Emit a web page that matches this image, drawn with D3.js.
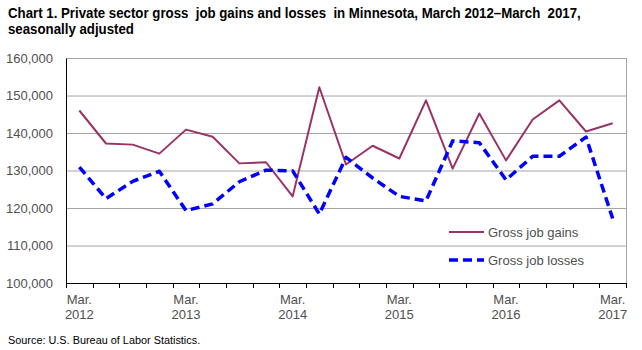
<!DOCTYPE html>
<html>
<head>
<meta charset="utf-8">
<style>
  body { margin: 0; background: #fff; }
  svg text { font-family: "Liberation Sans", Arial, sans-serif; }
  .narrow { font-family: "Liberation Sans Narrow", "Arial Narrow", "Liberation Sans", sans-serif; }
</style>
</head>
<body>
<svg width="642" height="350"></svg>
<script src="https://d3js.org/d3.v7.min.js"></script>
<script>
  var quarters = ["Mar 2012", "Jun 2012", "Sep 2012", "Dec 2012",
                  "Mar 2013", "Jun 2013", "Sep 2013", "Dec 2013",
                  "Mar 2014", "Jun 2014", "Sep 2014", "Dec 2014",
                  "Mar 2015", "Jun 2015", "Sep 2015", "Dec 2015",
                  "Mar 2016", "Jun 2016", "Sep 2016", "Dec 2016",
                  "Mar 2017"];

  var gains = [146000, 137200, 136900, 134500, 140900, 139000, 131900, 132200,
               123100, 152200, 131600, 136600, 133200, 148700, 130500, 145200,
               132700, 143600, 148700, 140400, 142600];

  var losses = [130900, 122500, 127100, 129800, 119300, 121100, 127000, 130100,
                129900, 118400, 133500, 128000, 123100, 121900, 137900, 137400,
                127500, 133800, 133800, 138900, 117200];

  var yTicks = [100000, 110000, 120000, 130000, 140000, 150000, 160000];

  var title = ["Chart 1. Private sector gross  job gains and losses  in Minnesota, March 2012\u2013March  2017,",
               "seasonally adjusted"];
  var source = "Source: U.S. Bureau of Labor Statistics.";

  var svg = d3.select("svg"),
      margin = {top: 58, right: 16, bottom: 67, left: 66},
      width = +svg.attr("width") - margin.left - margin.right,
      height = +svg.attr("height") - margin.top - margin.bottom,
      g = svg.append("g").attr("transform", "translate(" + margin.left + "," + margin.top + ")");

  var x = d3.scaleBand().domain(quarters).range([0, width]);
  var y = d3.scaleLinear().domain([100000, 160000]).range([height, 0]);

  function cx(d) { return x(d) + x.bandwidth() / 2; }

  // gridlines
  g.selectAll(".grid")
    .data(yTicks.slice(1))
    .enter().append("line")
      .attr("x1", 0).attr("x2", width)
      .attr("y1", function(d) { return y(d) + 0.5; })
      .attr("y2", function(d) { return y(d) + 0.5; })
      .attr("stroke", "#a6a6a6");

  // right border
  g.append("line")
      .attr("x1", width + 0.5).attr("x2", width + 0.5)
      .attr("y1", 0).attr("y2", height)
      .attr("stroke", "#a6a6a6");

  // y axis
  var yAxis = g.append("g")
      .call(d3.axisLeft(y).tickValues(yTicks).tickSize(0).tickPadding(13).tickFormat(d3.format(",")));
  yAxis.select(".domain").attr("stroke", "#000");
  yAxis.selectAll("text").attr("font-size", 13).attr("fill", "#505050")
      .style("font-family", "'Liberation Sans', Arial, sans-serif");

  // x axis with ticks at band edges
  var edges = quarters.map(function(q) { return x(q); }).concat([width]);
  var xg = g.append("g").attr("transform", "translate(0," + height + ")");
  xg.append("line").attr("x1", 0).attr("x2", width).attr("y1", 0.5).attr("y2", 0.5).attr("stroke", "#000");
  xg.selectAll(".tk")
    .data(edges)
    .enter().append("line")
      .attr("x1", function(d) { return Math.round(d) + 0.5; })
      .attr("x2", function(d) { return Math.round(d) + 0.5; })
      .attr("y1", 0).attr("y2", 5)
      .attr("stroke", "#000");

  var labeled = quarters.filter(function(q) { return q.indexOf("Mar") === 0; });
  var lbl = xg.selectAll(".lbl")
    .data(labeled)
    .enter().append("text")
      .attr("text-anchor", "middle")
      .attr("font-size", 13)
      .attr("fill", "#505050")
      .attr("x", function(d) { return cx(d); });
  lbl.append("tspan").attr("x", function(d) { return cx(d); }).attr("y", 21)
      .text(function(d) { return d.split(" ")[0] + "."; });
  lbl.append("tspan").attr("x", function(d) { return cx(d); }).attr("y", 36)
      .text(function(d) { return d.split(" ")[1]; });

  // lines
  var line = d3.line()
      .x(function(d, i) { return cx(quarters[i]); })
      .y(function(d) { return y(d); });

  g.append("path")
      .datum(gains)
      .attr("fill", "none")
      .attr("stroke", "#993366")
      .attr("stroke-width", 2)
      .attr("stroke-linejoin", "round")
      .attr("d", line);

  g.append("path")
      .datum(losses)
      .attr("fill", "none")
      .attr("stroke", "#0000ff")
      .attr("stroke-width", 3.5)
      .attr("stroke-dasharray", "9,5")
      .attr("stroke-linejoin", "round")
      .attr("d", line);

  // legend
  var legend = [
    {name: "Gross job gains", color: "#993366", w: 2, dash: null, y: 174},
    {name: "Gross job losses", color: "#0000ff", w: 3.5, dash: "9,5", y: 202}
  ];
  var lg = g.selectAll(".legend")
    .data(legend)
    .enter().append("g")
      .attr("transform", function(d) { return "translate(383," + d.y + ")"; });
  lg.append("line")
      .attr("x1", 0).attr("x2", 35)
      .attr("y1", 0).attr("y2", 0)
      .attr("stroke", function(d) { return d.color; })
      .attr("stroke-width", function(d) { return d.w; })
      .attr("stroke-dasharray", function(d) { return d.dash; });
  lg.append("text")
      .attr("x", 39).attr("y", 4.5)
      .attr("font-size", 13)
      .attr("fill", "#505050")
      .text(function(d) { return d.name; });

  // title (condensed like the original narrow face)
  svg.selectAll(".title")
    .data(title)
    .enter().append("text")
      .attr("class", "narrow")
      .attr("transform", function(d, i) { return "translate(8," + (18 + i * 16) + ") scale(0.915,1)"; })
      .attr("font-size", 14.5)
      .attr("font-weight", "bold")
      .attr("fill", "#000")
      .attr("xml:space", "preserve")
      .style("white-space", "pre")
      .text(function(d) { return d; });

  svg.append("text")
      .attr("class", "narrow")
      .attr("transform", "translate(8,344) scale(0.946,1)")
      .attr("font-size", 11.5)
      .attr("fill", "#000")
      .text(source);
</script>
</body>
</html>
